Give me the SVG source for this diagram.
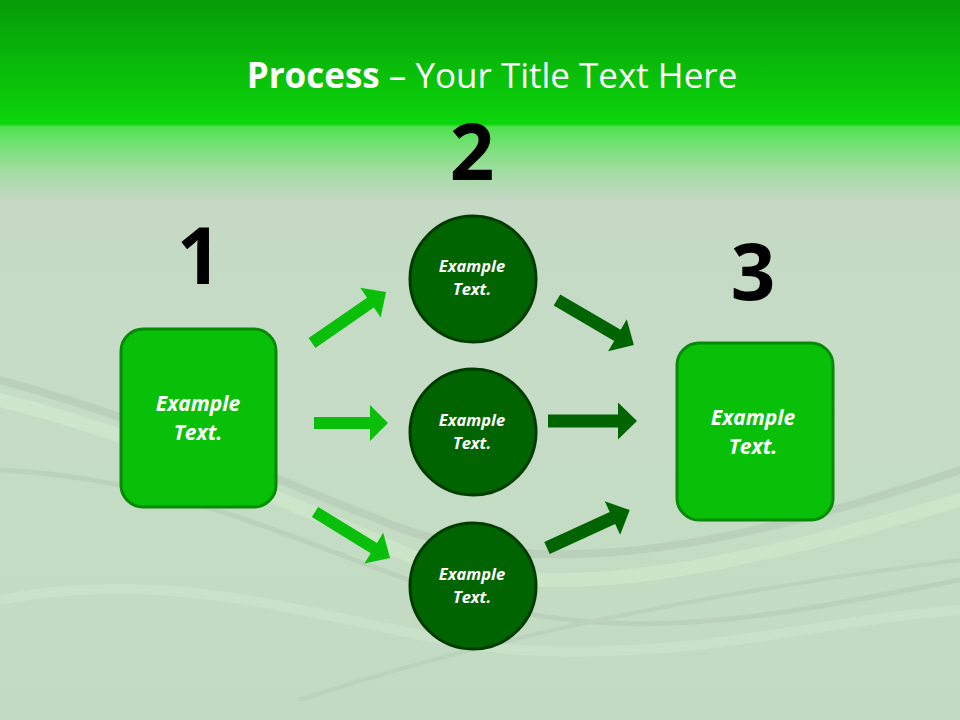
<svg xmlns="http://www.w3.org/2000/svg" width="960" height="720" viewBox="0 0 960 720">
<defs>
<linearGradient id="hdr" x1="0" y1="0" x2="0" y2="1">
<stop offset="0" stop-color="#079c07"/>
<stop offset="0.62" stop-color="#0bd60b"/>
<stop offset="0.635" stop-color="#4fe24f"/>
<stop offset="0.75" stop-color="#7ee07e"/>
<stop offset="0.88" stop-color="#a8dca8"/>
<stop offset="1" stop-color="#c4d6c4"/>
</linearGradient>
<linearGradient id="bg" x1="0" y1="0" x2="0" y2="1">
<stop offset="0" stop-color="#c4d6c4"/>
<stop offset="0.5" stop-color="#c6dcc6"/>
<stop offset="1" stop-color="#c2dac2"/>
</linearGradient>
<style>
.title{font-family:"Open Sans","Noto Sans",sans-serif;font-size:35px;fill:#ffffff;text-anchor:middle}
.num{font-family:"Open Sans","Noto Sans",sans-serif;font-size:78px;font-weight:bold;fill:#000000;text-anchor:middle}
.box{fill:#08c008;stroke:#078a07;stroke-width:3}
.circ{fill:#006400;stroke:#003c00;stroke-width:3}
.lbl{font-family:"Open Sans","Noto Sans",sans-serif;font-weight:bold;font-style:italic;fill:#ffffff;text-anchor:middle}
.big{font-size:21px}
.small{font-size:16.5px}
.al{fill:#0abf0a}
.ad{fill:#006400}
.wave{fill:none;stroke-linecap:round}
</style>
</defs>
<rect x="0" y="0" width="960" height="720" fill="url(#bg)"/>
<rect x="0" y="0" width="960" height="200" fill="url(#hdr)"/>
<g id="waves" opacity="0.35">
<path class="wave" d="M0,380 C150,420 250,470 380,520 C520,580 700,560 960,470" stroke="#a8bca8" stroke-width="8"/>
<path class="wave" d="M0,400 C160,440 280,500 420,560 C560,610 760,560 960,500" stroke="#dcf8d4" stroke-width="14"/>
<path class="wave" d="M0,470 C200,480 330,560 470,600 C640,650 800,610 960,580" stroke="#adc0ad" stroke-width="5"/>
<path class="wave" d="M0,600 C200,560 380,640 520,650 C700,660 820,620 960,610" stroke="#d4f0d4" stroke-width="10"/>
<path class="wave" d="M300,700 C450,650 650,600 960,560" stroke="#b0c4b0" stroke-width="4"/>
</g>
<text class="title" x="492" y="88"><tspan font-weight="bold">Process</tspan> – Your Title Text Here</text>
<text class="num" x="199" y="284">1</text>
<text class="num" x="472" y="180">2</text>
<text class="num" x="753" y="300">3</text>
<g id="connectors">
<path class="al" transform="translate(312,343) rotate(-34.6)" d="M0,-6 H71 V-18 L90,0 L71,18 V6 H0 Z"/>
<path class="al" transform="translate(314,423)" d="M0,-6 H56 V-18 L74,0 L56,18 V6 H0 Z"/>
<path class="al" transform="translate(315,512) rotate(31.5)" d="M0,-6 H69 V-18 L88,0 L69,18 V6 H0 Z"/>
<path class="ad" transform="translate(557,300) rotate(30.3)" d="M0,-6.5 H70 V-18.5 L89,0 L70,18.5 V6.5 H0 Z"/>
<path class="ad" transform="translate(548,421)" d="M0,-6.5 H70 V-18.5 L89,0 L70,18.5 V6.5 H0 Z"/>
<path class="ad" transform="translate(547,548) rotate(-24.6)" d="M0,-6.5 H72 V-18.5 L91,0 L72,18.5 V6.5 H0 Z"/>
</g>
<g id="node1">
<rect class="box" x="121" y="329" width="155" height="178" rx="22"/>
<text class="lbl big" x="198" y="411">Example</text>
<text class="lbl big" x="198" y="440">Text.</text>
</g>
<g id="node2a">
<circle class="circ" cx="473" cy="279" r="63"/>
<text class="lbl small" x="472" y="272">Example</text>
<text class="lbl small" x="472" y="295">Text.</text>
</g>
<g id="node2b">
<circle class="circ" cx="473" cy="432" r="63"/>
<text class="lbl small" x="472" y="426">Example</text>
<text class="lbl small" x="472" y="449">Text.</text>
</g>
<g id="node2c">
<circle class="circ" cx="473" cy="586" r="63"/>
<text class="lbl small" x="472" y="580">Example</text>
<text class="lbl small" x="472" y="603">Text.</text>
</g>
<g id="node3">
<rect class="box" x="677" y="343" width="156" height="177" rx="22"/>
<text class="lbl big" x="753" y="425">Example</text>
<text class="lbl big" x="753" y="454">Text.</text>
</g>
</svg>
